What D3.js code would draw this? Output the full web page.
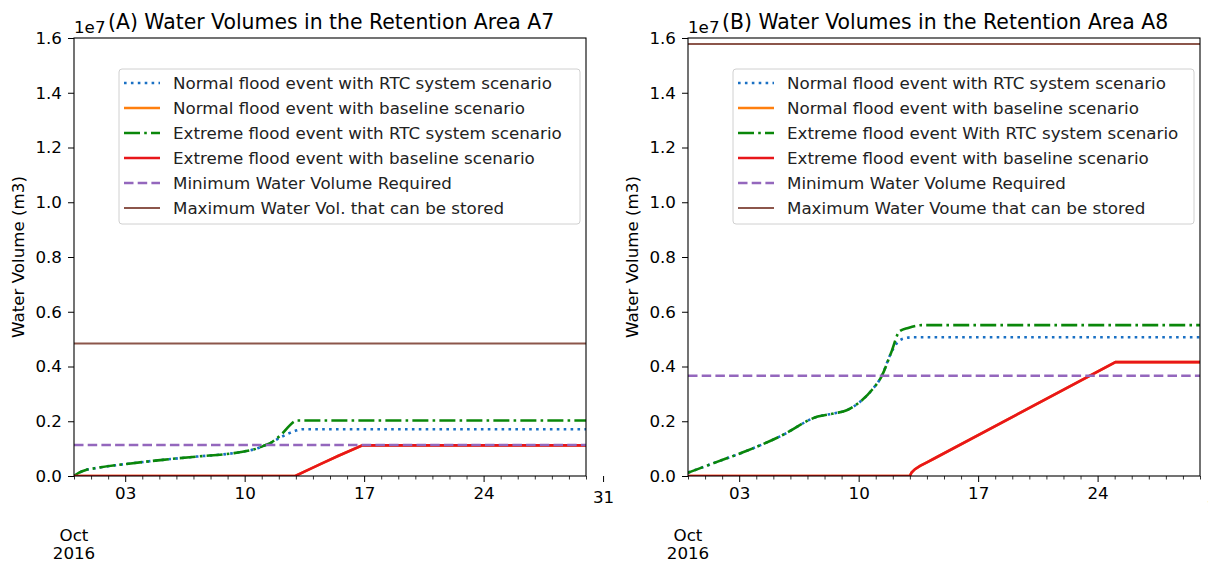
<!DOCTYPE html>
<html>
<head>
<meta charset="utf-8">
<script src="https://cdn.jsdelivr.net/npm/d3@7"></script>
<style>
  html, body { margin: 0; padding: 0; background: #fff; }
  svg { display: block; font-family: "DejaVu Sans", sans-serif; }
</style>
</head>
<body>
<svg id="chart" width="1208" height="564"></svg>
<script>
// ---------- DATA ----------
const startDate = new Date(2016, 9, 1);   // Oct 1 2016
const endDate = new Date(2016, 9, 31);    // Oct 31 2016
const xTickDays = [3, 10, 17, 24, 31];
const xTickLabels = ["03", "10", "17", "24", "31"];
const yTicks = [0, 0.2e7, 0.4e7, 0.6e7, 0.8e7, 1.0e7, 1.2e7, 1.4e7, 1.6e7];
const yTickLabels = ["0.0", "0.2", "0.4", "0.6", "0.8", "1.0", "1.2", "1.4", "1.6"];

const seriesNames = [
  "Normal flood event with RTC system scenario",
  "Normal flood event with baseline scenario",
  "Extreme flood event with RTC system scenario",
  "Extreme flood event with baseline scenario",
  "Minimum Water Volume Required",
  "Maximum Water Vol. that can be stored"
];
const seriesNamesB = [
  "Normal flood event with RTC system scenario",
  "Normal flood event with baseline scenario",
  "Extreme flood event With RTC system scenario",
  "Extreme flood event with baseline scenario",
  "Minimum Water Volume Required",
  "Maximum Water Voume that can be stored"
];
const titles = ["(A) Water Volumes in the Retention Area A7", "(B) Water Volumes in the Retention Area A8"];

// Panel A (A7): days since Oct 1 and volumes (m3)
const a7_days_green = [0, 0.3, 0.7, 1.2, 3.2, 5.2, 7.2, 9.3, 10.1, 10.7, 11.1, 11.5, 11.8, 12.2, 12.6, 12.9, 13.1, 30];
const a7_vals_green = [0, 0.12e6, 0.22e6, 0.28e6, 0.45e6, 0.59e6, 0.71e6, 0.83e6, 0.91e6, 1.0e6, 1.1e6, 1.2e6, 1.33e6, 1.55e6, 1.82e6, 1.99e6, 2.03e6, 2.03e6];
const a7_days_blue = [0, 0.3, 0.7, 1.2, 3.2, 5.2, 7.2, 9.3, 10.1, 10.7, 11.1, 11.5, 12.1, 12.6, 13.0, 13.4, 30];
const a7_vals_blue = [0, 0.12e6, 0.22e6, 0.28e6, 0.45e6, 0.59e6, 0.71e6, 0.83e6, 0.91e6, 1.0e6, 1.1e6, 1.2e6, 1.41e6, 1.56e6, 1.66e6, 1.71e6, 1.71e6];
const a7_days_red = [0, 12.97, 13.5, 14.5, 15.5, 16.9, 30];
const a7_vals_red = [0, 0, 0.16e6, 0.45e6, 0.74e6, 1.12e6, 1.12e6];
const a7_days_orange = [0, 12.97, 13.5, 14.5, 15.5, 16.9, 30];
const a7_vals_orange = [0, 0, 0.16e6, 0.45e6, 0.74e6, 1.12e6, 1.12e6];
const a7_min = 1.13e6;
const a7_max = 4.84e6;

// Panel B (A8)
const a8_days_green = [0, 1.5, 3.45, 5.4, 7.6, 8.6, 9.3, 10.0, 10.8, 11.35, 11.9, 12.4, 12.9, 13.7, 30];
const a8_vals_green = [0.12e6, 0.47e6, 0.92e6, 1.45e6, 2.17e6, 2.29e6, 2.4e6, 2.67e6, 3.16e6, 3.65e6, 4.5e6, 5.29e6, 5.41e6, 5.51e6, 5.51e6];
const a8_days_blue = [0, 1.5, 3.45, 5.4, 7.6, 8.6, 9.3, 10.0, 10.8, 11.35, 11.9, 12.3, 12.7, 13.2, 30];
const a8_vals_blue = [0.12e6, 0.47e6, 0.92e6, 1.45e6, 2.17e6, 2.29e6, 2.4e6, 2.67e6, 3.16e6, 3.65e6, 4.5e6, 4.9e6, 5.03e6, 5.07e6, 5.07e6];
const a8_days_red = [0, 13.0, 13.1, 13.3, 13.6, 14.0, 14.4, 25.05, 30];
const a8_vals_red = [0, 0, 0.13e6, 0.25e6, 0.37e6, 0.5e6, 0.63e6, 4.16e6, 4.16e6];
const a8_days_orange = [0, 13.0, 13.1, 13.3, 13.6, 14.0, 14.4, 25.05, 30];
const a8_vals_orange = [0, 0, 0.13e6, 0.25e6, 0.37e6, 0.5e6, 0.63e6, 4.16e6, 4.16e6];
const a8_min = 3.66e6;
const a8_max = 1.578e7;

// ---------- STYLE ----------
const colors = ["#1a70c4", "#ff7f0e", "#0a870a", "#e8161a", "#9467bd", "#8c564b"];
const dashes = ["2.6,4.3", null, "16,4.2,2.6,4.2", null, "9.5,4.2", null];
const widths = [2.6, 2.6, 2.6, 2.6, 2.6, 2];
const curves = [d3.curveMonotoneX, d3.curveLinear, d3.curveMonotoneX, d3.curveLinear];
const FS = 16.7;

const svg = d3.select("#chart");
const dayToDate = d => new Date(startDate.getTime() + d * 86400000);

const panels = [
  { x0: 74, x1: 586, names: seriesNames, title: titles[0],
    series: [[a7_days_blue, a7_vals_blue], [a7_days_orange, a7_vals_orange], [a7_days_green, a7_vals_green], [a7_days_red, a7_vals_red]],
    min: a7_min, max: a7_max },
  { x0: 688, x1: 1200, names: seriesNamesB, title: titles[1],
    series: [[a8_days_blue, a8_vals_blue], [a8_days_orange, a8_vals_orange], [a8_days_green, a8_vals_green], [a8_days_red, a8_vals_red]],
    min: a8_min, max: a8_max }
];
const y0 = 38, y1 = 476;

panels.forEach((p) => {
  const x = d3.scaleTime().domain([startDate, endDate]).range([p.x0, p.x1]);
  const y = d3.scaleLinear().domain([0, 1.6e7]).range([y1, y0]);
  const g = svg.append("g");

  const clipId = "clip" + p.x0;
  svg.append("clipPath").attr("id", clipId).append("rect")
    .attr("x", p.x0).attr("y", y0).attr("width", p.x1 - p.x0).attr("height", y1 - y0);
  const plot = g.append("g").attr("clip-path", `url(#${clipId})`);

  p.series.forEach((s, i) => {
    const line = d3.line().x(d => x(d[0])).y(d => y(d[1])).curve(curves[i]);
    const pts = s[0].map((d, k) => [dayToDate(d), s[1][k]]);
    plot.append("path").datum(pts).attr("d", line)
      .attr("fill", "none").attr("stroke", colors[i]).attr("stroke-width", widths[i])
      .attr("stroke-dasharray", dashes[i]);
  });
  // min & max lines
  [[p.min, 4], [p.max, 5]].forEach(([v, i]) => {
    const pts = [[startDate, v], [endDate, v]];
    plot.append("path").datum(pts).attr("d", d3.line().x(d => x(d[0])).y(d => y(d[1])))
      .attr("fill", "none").attr("stroke", colors[i]).attr("stroke-width", widths[i])
      .attr("stroke-dasharray", dashes[i]);
  });

  // axes
  const xAxis = d3.axisBottom(x).tickValues(xTickDays.map(dayToDate))
    .tickFormat((d, i) => xTickLabels[i]).tickSize(6).tickPadding(5);
  const gx = g.append("g").attr("transform", `translate(0,${y1})`).call(xAxis);
  gx.select(".domain").remove();
  gx.selectAll("text").attr("font-size", FS).attr("fill", "#000").attr("font-family", "DejaVu Sans");
  gx.selectAll(".tick").filter((d, i) => i === xTickDays.length - 1).select("text").attr("y", 15);
  gx.selectAll(".tick line").attr("stroke", "#000").attr("stroke-width", 1);
  // minor daily ticks
  const minor = d3.range(0, 31).filter(d => !xTickDays.includes(d)).map(dayToDate);
  const gxm = g.append("g").attr("transform", `translate(0,${y1})`)
    .call(d3.axisBottom(x).tickValues(minor).tickFormat("").tickSize(3.5));
  gxm.select(".domain").remove();
  gxm.selectAll(".tick line").attr("stroke", "#000").attr("stroke-width", 0.8);

  const yAxis = d3.axisLeft(y).tickValues(yTicks).tickFormat((d, i) => yTickLabels[i]).tickSize(6).tickPadding(6);
  const gy = g.append("g").attr("transform", `translate(${p.x0},0)`).call(yAxis);
  gy.select(".domain").remove();
  gy.selectAll("text").attr("font-size", FS).attr("fill", "#000").attr("font-family", "DejaVu Sans");
  gy.selectAll(".tick line").attr("stroke", "#000").attr("stroke-width", 1);

  // frame
  g.append("rect").attr("x", p.x0).attr("y", y0).attr("width", p.x1 - p.x0).attr("height", y1 - y0)
    .attr("fill", "none").attr("stroke", "#000").attr("stroke-width", 1.1);

  // offset / date labels
  g.append("text").attr("x", p.x0).attr("y", 541).attr("text-anchor", "middle")
    .attr("font-size", FS).text("Oct");
  g.append("text").attr("x", p.x0).attr("y", 559).attr("text-anchor", "middle")
    .attr("font-size", FS).text("2016");

  // 1e7 and title
  g.append("text").attr("x", p.x0).attr("y", 33).attr("font-size", FS).text("1e7");
  g.append("text").attr("x", p.x0 + 34).attr("y", 29).attr("font-size", 20.4).attr("fill", "#000").text(p.title);

  // y label
  g.append("text").attr("transform", `translate(${p.x0 - 50},${(y0 + y1) / 2}) rotate(-90)`)
    .attr("text-anchor", "middle").attr("font-size", FS).text("Water Volume (m3)");

  // legend
  const lx = p.x0 + 45, ly = 69, lw = 461, lh = 155;
  const lg = g.append("g");
  lg.append("rect").attr("x", lx).attr("y", ly).attr("width", lw).attr("height", lh)
    .attr("rx", 3).attr("fill", "#fff").attr("fill-opacity", 0.8).attr("stroke", "#d0d0d0").attr("stroke-width", 1);
  p.names.forEach((name, i) => {
    const cy = ly + 14 + i * 25;
    lg.append("line").attr("x1", lx + 5).attr("x2", lx + 41).attr("y1", cy).attr("y2", cy)
      .attr("stroke", colors[i]).attr("stroke-width", widths[i]).attr("stroke-dasharray", dashes[i]);
    lg.append("text").attr("x", lx + 54).attr("y", cy).attr("dy", "0.35em").attr("font-size", FS)
      .attr("fill", "#222").text(name);
  });
});
</script>
</body>
</html>
